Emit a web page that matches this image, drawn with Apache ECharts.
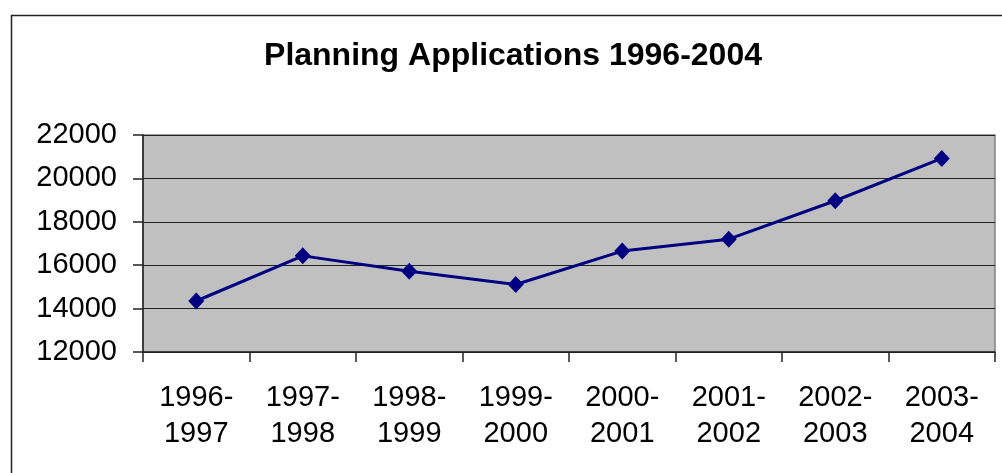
<!DOCTYPE html>
<html>
<head>
<meta charset="utf-8">
<script src="https://cdn.jsdelivr.net/npm/echarts@6/dist/echarts.min.js"></script>
<style>
  html, body { margin: 0; padding: 0; background: #ffffff; }
  #chart { width: 1002px; height: 473px; }
</style>
</head>
<body>
<div id="chart"></div>
<script>
// planning applications per year
const years = ['1996-\n1997', '1997-\n1998', '1998-\n1999', '1999-\n2000', '2000-\n2001', '2001-\n2002', '2002-\n2003', '2003-\n2004'];
const applications = [14350, 16430, 15720, 15110, 16650, 17200, 18970, 20920];
const yTicks = { min: 12000, max: 22000, step: 2000 };

const chart = echarts.init(document.getElementById('chart'));
chart.setOption({
  backgroundColor: '#ffffff',
  animation: false,
  title: {
    text: 'Planning Applications 1996-2004',
    left: 508,
    top: 35,
    textAlign: 'center',
    textStyle: { fontFamily: 'Liberation Sans, Arial', fontSize: 32, fontWeight: 'bold', color: '#000' }
  },
  graphic: [{
    type: 'polyline',
    shape: { points: [[11.5, 480], [11.5, 15.5], [1010, 15.5]] },
    style: { stroke: '#222', lineWidth: 1.5, fill: null }
  }],
  grid: {
    left: 143, right: 7, top: 135, bottom: 121,
    show: true,
    backgroundColor: '#c0c0c0',
    borderColor: '#808080',
    borderWidth: 1.5
  },
  xAxis: {
    type: 'category',
    data: years,
    boundaryGap: true,
    axisLine: { lineStyle: { color: '#222', width: 1.5 } },
    axisTick: { show: true, length: 10, lineStyle: { color: '#222', width: 1.5 } },
    axisLabel: {
      interval: 0,
      margin: 28,
      fontFamily: 'Liberation Sans, Arial',
      fontSize: 29,
      lineHeight: 36,
      color: '#000'
    }
  },
  yAxis: {
    type: 'value',
    min: yTicks.min,
    max: yTicks.max,
    interval: yTicks.step,
    axisLine: { show: true, lineStyle: { color: '#222', width: 1.5 } },
    axisTick: { show: true, length: 10, lineStyle: { color: '#222', width: 1.5 } },
    splitLine: { lineStyle: { color: '#222', width: 1 } },
    axisLabel: {
      margin: 26,
      formatter: v => String(v),
      fontFamily: 'Liberation Sans, Arial',
      fontSize: 29,
      color: '#000'
    }
  },
  series: [{
    type: 'line',
    data: applications,
    symbol: 'diamond',
    symbolSize: [16, 17],
    lineStyle: { color: '#000080', width: 3 },
    itemStyle: { color: '#000080' }
  }]
});
</script>
</body>
</html>
